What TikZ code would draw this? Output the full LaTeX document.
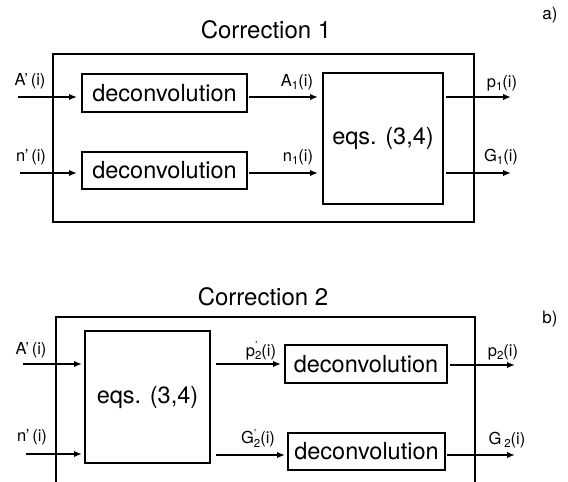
\documentclass[tikz,border=0pt]{standalone}
\usepackage{fontspec}
\setmainfont{TeX Gyre Heros}
\usetikzlibrary{arrows.meta}
\newcommand{\subtwo}[2]{#1\rlap{\raisebox{6.5bp}{\fontsize{11bp}{11bp}\selectfont '}}\raisebox{-3.5bp}{\fontsize{11.5bp}{11.5bp}\selectfont #2}}
\newcommand{\lowsub}[1]{\raisebox{-3.5bp}{\fontsize{11.5bp}{11.5bp}\selectfont #1}}
\begin{document}
\begin{tikzpicture}[x=1bp,y=-1bp,
  frame/.style={draw, line width=1.3bp, inner sep=0pt, outer sep=0pt},
  blk/.style={draw, line width=1.4bp, inner sep=0pt, outer sep=0pt, font=\fontsize{23.5bp}{24bp}\selectfont},
  arr/.style={line width=2.4bp, -{Latex[length=8bp,width=6.5bp]}},
  lbl/.style={inner sep=0pt, font=\fontsize{16.5bp}{17bp}\selectfont},
  ttl/.style={inner sep=0pt, font=\fontsize{24bp}{25bp}\selectfont},
  tag/.style={inner sep=0pt, font=\fontsize{17bp}{18bp}\selectfont}]
\useasboundingbox (0,0) rectangle (568,482);
\clip (0,0) rectangle (568,482);

% ---------------- panel a ----------------
\node[ttl] (titleA) at (266,30) {Correction 1};
\node[tag] (tagA) at (550,15) {a)};
\node[frame, minimum width=421bp, minimum height=168bp] (outerA) at (263.5,138) {};
\node[blk, minimum width=165bp, minimum height=38bp] (decA1) at (164.5,93) {deconvolution};
\node[blk, minimum width=165bp, minimum height=37bp] (decA2) at (164.5,170.5) {deconvolution};
\node[blk, minimum width=120bp, minimum height=131bp] (eqA) at (383,138.5) {eqs. (3,4)};

\coordinate (inA1) at (18,97);
\coordinate (inA2) at (20,173);
\coordinate (outA1) at (511,97);
\coordinate (outA2) at (511,173);
\draw[arr, shorten >=5bp] (inA1) -- (decA1.west |- inA1);
\draw[arr, shorten >=5bp] (inA2) -- (decA2.west |- inA2);
\draw[arr, shorten <=2bp, shorten >=5bp] (decA1.east |- inA1) -- (eqA.west |- inA1);
\draw[arr, shorten <=2bp, shorten >=5bp] (decA2.east |- inA2) -- (eqA.west |- inA2);
\draw[arr, shorten <=3bp] (eqA.east |- outA1) -- (outA1);
\draw[arr, shorten <=3bp] (eqA.east |- outA2) -- (outA2);

\node[lbl] (lA1) at (30,81) {A'\,(i)};
\node[lbl] (lA2) at (31,157) {n'\,(i)};
\node[lbl] (lA3) at (297,82) {A\lowsub{1}(i)};
\node[lbl] (lA4) at (298,157) {n\lowsub{1}(i)};
\node[lbl] (lA5) at (502,83) {p\lowsub{1}(i)};
\node[lbl] (lA6) at (501,157) {G\lowsub{1}(i)};

% ---------------- panel b ----------------
\node[ttl] (titleB) at (263,297) {Correction 2};
\node[tag] (tagB) at (550,319) {b)};
\node[frame, minimum width=419bp, minimum height=168bp] (outerB) at (265.5,401) {};
\node[blk, minimum width=125bp, minimum height=132bp] (eqB) at (147.5,397) {eqs. (3,4)};
\node[blk, minimum width=162bp, minimum height=38bp] (decB1) at (366,364) {deconvolution};
\node[blk, minimum width=157bp, minimum height=37bp] (decB2) at (366.5,451.5) {deconvolution};

\coordinate (inB1) at (23,364);
\coordinate (inB2) at (26,454);
\coordinate (outB1) at (515,365);
\coordinate (outB2) at (515,455);
\draw[arr, shorten >=3bp] (inB1) -- (eqB.west |- inB1);
\draw[arr, shorten >=3bp] (inB2) -- (eqB.west |- inB2);
\draw[arr, shorten <=6bp, shorten >=4bp] (eqB.east |- inB1) -- (decB1.west |- inB1);
\draw[arr, shorten <=6bp, shorten >=3bp] (eqB.east |- outB2) -- (decB2.west |- outB2);
\draw[arr, shorten <=3bp] (decB1.east |- outB1) -- (outB1);
\draw[arr, shorten <=2bp] (decB2.east |- outB2) -- (outB2);

\node[lbl] (lB1) at (31,350) {A'\,(i)};
\node[lbl] (lB2) at (32,437) {n'\,(i)};
\node[lbl] (lB3) at (261,351) {\subtwo{p}{2}(i)};
\node[lbl] (lB4) at (258,438) {\subtwo{G}{2}(i)};
\node[lbl] (lB5) at (503,352) {p\lowsub{2}(i)};
\node[lbl] (lB6) at (507,440) {G\,\lowsub{2}(i)};
\end{tikzpicture}
\end{document}
